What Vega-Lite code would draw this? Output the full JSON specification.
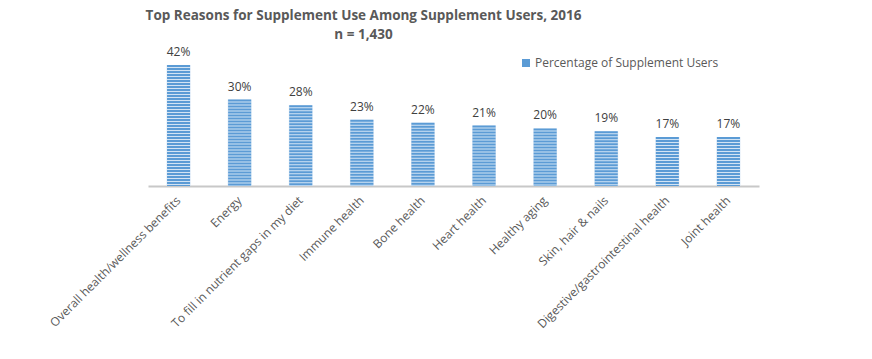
{
  "$schema": "https://vega.github.io/schema/vega-lite/v6.json",
  "width": 611,
  "height": 144,
  "autosize": {"type": "none"},
  "padding": {"left": 148, "top": 42, "right": 113, "bottom": 173},
  "background": "white",
  "config": {"view": {"stroke": null}, "font": "Open Sans"},
  "title": {
    "text": ["Top Reasons for Supplement Use Among Supplement Users, 2016", "n = 1,430"],
    "fontSize": 13.5,
    "fontWeight": "bold",
    "color": "#595959",
    "font": "Open Sans",
    "anchor": "middle",
    "dx": -90,
    "offset": 1,
    "lineHeight": 19
  },
  "data": {
    "values": [
      {"reason": "Overall health/wellness benefits", "pct": 0.42},
      {"reason": "Energy", "pct": 0.30},
      {"reason": "To fill in nutrient gaps in my diet", "pct": 0.28},
      {"reason": "Immune health", "pct": 0.23},
      {"reason": "Bone health", "pct": 0.22},
      {"reason": "Heart health", "pct": 0.21},
      {"reason": "Healthy aging", "pct": 0.20},
      {"reason": "Skin, hair & nails", "pct": 0.19},
      {"reason": "Digestive/gastrointestinal health", "pct": 0.17},
      {"reason": "Joint health", "pct": 0.17}
    ]
  },
  "encoding": {
    "x": {
      "field": "reason",
      "type": "nominal",
      "sort": null,
      "scale": {"paddingInner": 0.61, "paddingOuter": 0.305},
      "axis": {
        "title": null,
        "labelAngle": -45,
        "labelAlign": "right",
        "labelBaseline": "middle",
        "labelPadding": 12,
        "labelFontSize": 12,
        "labelColor": "#595959",
        "labelFont": "Open Sans",
        "ticks": false,
        "domainColor": "#C8C8C8",
        "domainWidth": 2,
        "labelLimit": 300
      }
    },
    "y": {
      "field": "pct",
      "type": "quantitative",
      "scale": {"domain": [0, 0.5]},
      "axis": null
    }
  },
  "layer": [
    {
      "mark": {"type": "bar", "color": "#d3e4f4"}
    },
    {
      "mark": {"type": "rule", "strokeWidth": 23, "strokeDash": [2, 1], "strokeCap": "butt"},
      "encoding": {
        "y2": {"datum": 0},
        "color": {
          "datum": "Percentage of Supplement Users",
          "type": "nominal",
          "scale": {"range": ["#5B9BD5"]},
          "legend": {
            "title": null,
            "orient": "none",
            "legendX": 372,
            "legendY": 15,
            "symbolType": "square",
            "symbolSize": 64,
            "symbolFillColor": "#5B9BD5",
            "symbolStrokeColor": "#5B9BD5",
            "symbolStrokeWidth": 0,
            "labelOffset": 3,
            "labelFontSize": 12,
            "labelColor": "#595959",
            "labelFont": "Open Sans",
            "labelLimit": 300
          }
        }
      }
    },
    {
      "mark": {"type": "text", "baseline": "bottom", "dy": -6, "fontSize": 12, "color": "#404040", "font": "Open Sans"},
      "encoding": {
        "text": {"field": "pct", "type": "quantitative", "format": ".0%"}
      }
    }
  ]
}
